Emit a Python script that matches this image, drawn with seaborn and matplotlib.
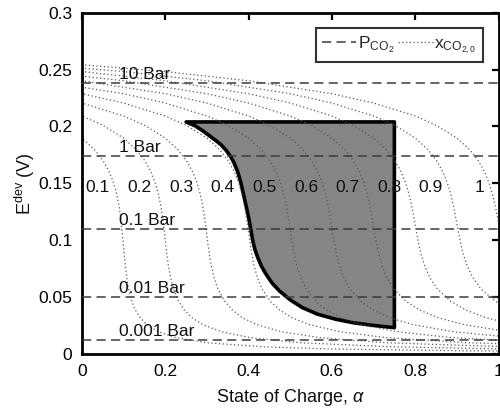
import numpy as np
import pandas as pd
import matplotlib
matplotlib.use('Agg')
import matplotlib.pyplot as plt
import seaborn as sns
from matplotlib.lines import Line2D

sns.set_theme(style='white')
plt.rcParams['font.family'] = ['Liberation Sans', 'DejaVu Sans']
plt.rcParams['mathtext.fontset'] = 'custom'
plt.rcParams['mathtext.rm'] = 'Liberation Sans'
plt.rcParams['mathtext.it'] = 'Liberation Sans:italic'
plt.rcParams['mathtext.bf'] = 'Liberation Sans:bold'

# ---------------- data ----------------
# CO2 partial-pressure iso-lines (E^dev in V)
P_LABELS = ['10 Bar', '1 Bar', '0.1 Bar', '0.01 Bar', '0.001 Bar']
P_E = [0.238, 0.174, 0.110, 0.050, 0.012]

# x_CO2,0 curves: shared E levels, each curve starts at a given level index
E_LEVELS = [0.2573, 0.2483, 0.2402, 0.2288, 0.2206, 0.2092, 0.2011, 0.1897,
            0.1796, 0.1702, 0.1602, 0.1506, 0.1415, 0.1301, 0.1189, 0.1059,
            0.0961, 0.0869, 0.0782, 0.0676, 0.0574, 0.0463, 0.0385, 0.0317,
            0.0258, 0.0195, 0.0144, 0.0098, 0.0063, 0.0043, 0.0027, 0.0018]

X0_LABELS = ['0.1', '0.2', '0.3', '0.4', '0.5', '0.6', '0.7', '0.8', '0.9', '1']
X0_VALUES = [0.1, 0.2, 0.3, 0.4, 0.5, 0.6, 0.7, 0.8, 0.9, 1.0]
CURVE_START = [6, 4, 3, 2, 2, 1, 1, 0, 0, 0]

SOC_X01 = [-0.050, 0.0001, 0.0301, 0.0502, 0.0653, 0.0754, 0.0826, 0.0888, 0.0933,
           0.0970, 0.0994, 0.1015, 0.1038, 0.1071, 0.1117, 0.1195, 0.1282, 0.1398,
           0.1554, 0.1832, 0.225, 0.300, 0.433, 0.600, 0.933, 1.35]
SOC_X02 = [-0.1, 0.0001, 0.0501, 0.1002, 0.1302, 0.1503, 0.1655, 0.1756, 0.1829,
           0.1894, 0.1940, 0.1982, 0.2011, 0.2040, 0.2072, 0.2123, 0.2195, 0.2319,
           0.2459, 0.2646, 0.2898, 0.3349, 0.4025, 0.524, 0.74, 1.01]
SOC_X03 = [-0.1, 0.0001, 0.1001, 0.1501, 0.2002, 0.2303, 0.2504, 0.2656, 0.2759,
           0.2832, 0.2898, 0.2947, 0.2993, 0.3026, 0.3061, 0.3101, 0.3167, 0.3261,
           0.3425, 0.3611, 0.3858, 0.4192, 0.4789, 0.569, 0.73, 1.017]
SOC_X04 = [-0.2, 0.0, 0.1001, 0.2001, 0.2502, 0.3003, 0.3304, 0.3505, 0.3658,
           0.3761, 0.3835, 0.3902, 0.3953, 0.4003, 0.4040, 0.4080, 0.4128, 0.4207,
           0.4321, 0.4521, 0.4748, 0.5050, 0.5459, 0.6191, 0.729, 0.926, 1.277]
SOC_X05 = [-0.1, 0.1001, 0.2001, 0.3002, 0.3502, 0.4003, 0.4304, 0.4506, 0.4659,
           0.4762, 0.4837, 0.4906, 0.4959, 0.5012, 0.5053, 0.5098, 0.5153, 0.5245,
           0.5377, 0.5611, 0.5877, 0.6230, 0.6709, 0.7566, 0.885, 1.116]
SOC_X06 = [-0.2, 0.0001, 0.2001, 0.3001, 0.4002, 0.4502, 0.5004, 0.5305, 0.5507,
           0.5660, 0.5764, 0.5839, 0.5909, 0.5964, 0.6020, 0.6065, 0.6115, 0.6176,
           0.6280, 0.6430, 0.6695, 0.6997, 0.7398, 0.7942, 0.8916, 1.0375]
SOC_X07 = [-0.1, 0.1001, 0.3001, 0.4001, 0.5002, 0.5503, 0.6004, 0.6306, 0.6508,
           0.6661, 0.6766, 0.6842, 0.6913, 0.6969, 0.7028, 0.7076, 0.7131, 0.7199,
           0.7313, 0.7480, 0.7775, 0.8111, 0.8558, 0.9165, 1.0249]
SOC_X08 = [-0.3, 0.0, 0.2001, 0.4001, 0.5001, 0.6002, 0.6503, 0.7004, 0.7306,
           0.7509, 0.7662, 0.7767, 0.7844, 0.7916, 0.7974, 0.8036, 0.8087, 0.8146,
           0.8220, 0.8345, 0.8527, 0.8851, 0.9219, 0.9710, 1.0376]
SOC_X09 = [-0.2, 0.1, 0.3001, 0.5001, 0.6002, 0.7002, 0.7503, 0.8005, 0.8307,
           0.8509, 0.8663, 0.8769, 0.8846, 0.8919, 0.8978, 0.9043, 0.9098, 0.9161,
           0.9240, 0.9375, 0.9572, 0.9923, 1.0322]
SOC_X10 = [-0.1, 0.2, 0.4001, 0.6001, 0.7002, 0.8003, 0.8503, 0.9005, 0.9307,
           0.9510, 0.9664, 0.9770, 0.9848, 0.9922, 0.9983, 1.005]
SOC_CURVES = [SOC_X01, SOC_X02, SOC_X03, SOC_X04, SOC_X05,
              SOC_X06, SOC_X07, SOC_X08, SOC_X09, SOC_X10]

# shaded operating window (top edge, right edge, then curved lower-left boundary)
REGION_SOC = [0.25, 0.75, 0.75, 0.72, 0.689, 0.65, 0.609, 0.565, 0.529, 0.50,
              0.474, 0.457, 0.442, 0.431, 0.422, 0.415, 0.410, 0.405, 0.400,
              0.394, 0.3876, 0.381, 0.374, 0.365, 0.356, 0.346, 0.335, 0.322,
              0.306, 0.29, 0.272, 0.25]
REGION_E = [0.204, 0.204, 0.0231, 0.0242, 0.0255, 0.0275, 0.0305, 0.0350, 0.0407,
            0.0475, 0.0554, 0.0620, 0.0700, 0.0770, 0.0847, 0.0920, 0.0994,
            0.1100, 0.1200, 0.1300, 0.1405, 0.1510, 0.1600, 0.1680, 0.1740,
            0.1790, 0.1835, 0.1875, 0.1918, 0.1962, 0.2005, 0.204]

# ---------------- figure ----------------
FS = 12.5
fig = plt.figure(figsize=(5.0, 4.12), dpi=100)
ax = fig.add_axes([0.164, 0.141, 0.833, 0.828])

rows = []
for lab, start, soc in zip(X0_LABELS, CURVE_START, SOC_CURVES):
    for i, a in enumerate(soc):
        rows.append({'x0': lab, 'order': i, 'SOC': a, 'E': E_LEVELS[start + i]})
df = pd.DataFrame(rows)

ax.fill(REGION_SOC, REGION_E, facecolor='#858585', edgecolor='black',
        linewidth=2.6, joinstyle='round', zorder=1)

sns.lineplot(data=df, x='SOC', y='E', units='x0', estimator=None, sort=False,
             color='#5a5a5a', linewidth=0.9, linestyle=(0, (1, 2)), ax=ax,
             legend=False, zorder=2)

for e in P_E:
    ax.axhline(e, color='#3c3c3c', linewidth=1.1, linestyle=(0, (6, 3.5)), zorder=3)

for lab, e in zip(P_LABELS, P_E):
    ax.text(0.09, e + 0.0036, lab, fontsize=FS, ha='left', va='baseline',
            color='#111111', zorder=4)

for lab, x0 in zip(X0_LABELS, X0_VALUES):
    ax.text(x0 - 0.033, 0.1425, lab, fontsize=FS, ha='right', va='baseline',
            color='#111111', zorder=4)

ax.set_xlim(0, 1)
ax.set_ylim(0, 0.3)
ax.set_xticks([0, 0.2, 0.4, 0.6, 0.8, 1.0])
ax.set_xticklabels(['0', '0.2', '0.4', '0.6', '0.8', '1'])
ax.set_yticks([0, 0.05, 0.1, 0.15, 0.2, 0.25, 0.3])
ax.set_yticklabels(['0', '0.05', '0.1', '0.15', '0.2', '0.25', '0.3'])
ax.tick_params(direction='in', length=5, width=1.6, top=True, right=True,
               labelsize=FS, colors='black', pad=7)
for s in ax.spines.values():
    s.set_linewidth(2.0)
    s.set_color('black')

ax.set_xlabel(r'State of Charge, $\alpha$', fontsize=13, color='#111111', labelpad=6)
ax.set_ylabel(r'$\mathregular{E^{dev}}$ (V)', fontsize=13, color='#111111', labelpad=1)

handles = [Line2D([], [], color='#3c3c3c', linewidth=1.1, linestyle=(0, (6, 3.5))),
           Line2D([], [], color='#5a5a5a', linewidth=0.9, linestyle=(0, (1, 2)))]
leg = ax.legend(handles, [r'$\mathregular{P_{CO_2}}$', r'$\mathregular{x_{CO_{2,0}}}$'],
                ncol=2, loc='upper right', bbox_to_anchor=(0.962, 0.955),
                fontsize=FS, frameon=True, fancybox=False, handlelength=2.0,
                handletextpad=0.1, columnspacing=0.2, borderpad=0.35,
                borderaxespad=0.0)
leg.get_frame().set_edgecolor('black')
leg.get_frame().set_linewidth(1.5)
leg.set_zorder(5)

fig.savefig('out.png', dpi=100)
